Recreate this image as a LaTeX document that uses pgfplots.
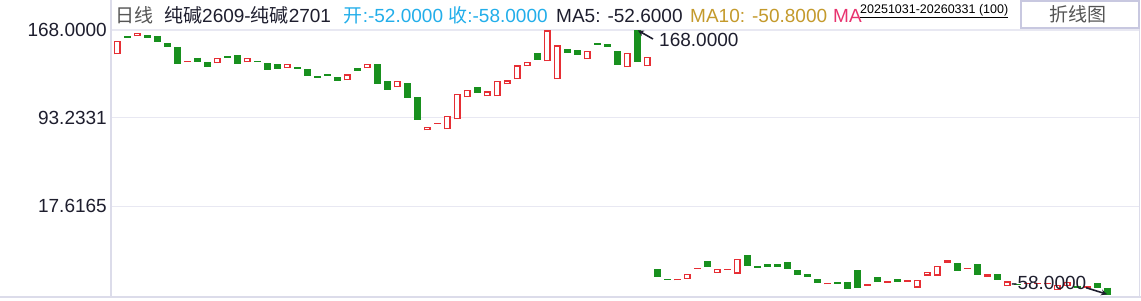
\documentclass[border=0pt]{standalone}
\usepackage{pgfplots}
\usepackage{pgfplotstable}
\pgfplotsset{compat=1.18}
\usetikzlibrary{arrows.meta}
\usepackage{fontspec}
\setmainfont{Liberation Sans}
\newfontfamily\cjk{Noto Sans CJK SC}
\definecolor{upred}{HTML}{E62E34}
\definecolor{dngreen}{HTML}{18901E}
\definecolor{gridc}{HTML}{E8E8F2}
\definecolor{framec}{HTML}{DCDCEA}
\definecolor{labc}{HTML}{1E1E2E}
\definecolor{hblue}{HTML}{22AEEA}
\definecolor{hgold}{HTML}{C49A2C}
\definecolor{hpink}{HTML}{E8336F}
\definecolor{hgray}{HTML}{555555}
\definecolor{btnc}{HTML}{C8C8E0}

\pgfplotstableread{
i o c
0 147.2 158.6
2 162.6 165.2
7 140.9 141.8
10 139.5 144.1
13 140.4 144.1
17 135.3 138.7
23 125.0 130.1
25 135.3 138.7
28 119.0 124.2
31 82.3 84.9
32 87.9 88.8
33 83.1 94.5
34 91.7 113.1
35 110.5 116.5
37 111.3 115.6
38 111.3 124.2
39 121.6 125.0
40 125.9 137.8
41 137.0 140.4
43 141.3 167.6
44 125.9 154.9
47 142.9 149.8
51 136.1 148.1
53 137.0 144.7
56 -45.7 -44.8
57 -44.5 -40.5
58 -36.0 -35.1
60 -39.4 -36.3
61 -36.9 -36.0
62 -39.9 -27.7
71 -49.1 -48.2
75 -50.5 -49.1
77 -47.6 -45.9
79 -46.8 -45.1
80 -51.9 -45.1
81 -41.6 -38.2
82 -41.6 -33.7
83 -30.5 -28.6
85 -36.0 -35.1
87 -42.5 -40.5
89 -50.6 -46.6
91 -49.0 -48.3
92 -49.0 -48.3
93 -49.2 -48.4
94 -54.0 -49.7
95 -50.3 -47.4
97 -52.0 -50.8
}\uptab

\pgfplotstableread{
i o c
1 162.9 161.4
3 163.7 161.4
4 162.9 158.0
5 156.9 153.7
6 153.5 139.2
8 144.3 140.9
9 140.7 136.6
11 145.8 144.3
12 146.6 139.2
14 141.8 140.9
15 139.8 134.1
16 138.9 134.9
18 136.4 134.9
19 134.7 128.9
20 128.7 127.2
21 130.4 128.9
22 127.8 124.7
24 135.5 133.2
26 138.9 122.1
27 124.4 117.0
29 122.5 110.2
30 110.7 91.3
36 119.3 114.4
42 148.4 142.6
45 151.8 148.6
46 150.9 146.9
48 156.9 155.4
49 156.0 153.7
50 150.1 138.4
52 168.0 140.9
54 -36.3 -42.8
55 -44.8 -45.7
59 -29.4 -34.3
63 -24.3 -33.4
64 -33.4 -35.1
65 -32.0 -34.3
66 -32.0 -34.3
67 -30.3 -36.0
68 -37.1 -41.1
69 -40.5 -42.8
70 -44.8 -48.0
72 -47.4 -48.8
73 -47.4 -53.1
74 -37.1 -52.2
76 -43.1 -47.1
78 -44.8 -46.8
84 -31.1 -37.4
86 -32.0 -41.1
88 -40.5 -45.4
90 -48.6 -49.2
96 -50.3 -52.0
98 -48.0 -52.5
99 -52.0 -58.0
}\dntab

\begin{document}
\begin{tikzpicture}[x=1bp,y=1bp]
\path[use as bounding box] (0,0) rectangle (1141,300);
\fill[white] (0,0) rectangle (1141,300);
\begin{axis}[
  at={(112bp,4bp)}, anchor=south west,
  scale only axis, width=1027bp, height=296bp,
  xmin=-0.5, xmax=102.2,
  ymin=-59.1, ymax=193.6,
  axis line style={draw=none},
  xtick=\empty,
  ytick={17.6165,93.2331,168},
  yticklabels={17.6165,93.2331,168.0000},
  major tick length=0pt,
  ymajorgrids,
  grid style={draw=gridc, line width=1.2bp},
  yticklabel style={font=\fontsize{19bp}{22bp}\selectfont, text=labc, anchor=east, inner sep=0pt, xshift=-5bp},
  clip=false,
]
\addplot[dngreen, line width=7bp, quiver={u=0, v=\thisrow{c}-\thisrow{o}}] table[x=i, y=o] {\dntab};
\addplot[upred, line width=7bp, quiver={u=0, v=\thisrow{c}-\thisrow{o}}] table[x=i, y=o] {\uptab};
\addplot[white, line width=4.6bp, quiver={u=0, v={max(\thisrow{c}-\thisrow{o}-2.0,0)}}] table[x=i, y expr=\thisrow{o}+1.0] {\uptab};
\draw[labc, line width=1.6bp, -{Stealth[length=6bp,width=6bp]}] (axis cs:53.6,160.3) -- (axis cs:52.1,167.6);
\node[anchor=west, inner sep=0pt, text=labc, font=\fontsize{19bp}{22bp}\selectfont] at (axis cs:54.2,159.5) {168.0000};
\draw[labc, line width=1.6bp, -{Stealth[length=6bp,width=6bp]}] (axis cs:96.9,-52.0) -- (axis cs:99.0,-57.6);
\node[anchor=west, inner sep=0pt, text=labc, font=\fontsize{19bp}{22bp}\selectfont] at (axis cs:89.4,-47.6) {-58.0000};
\end{axis}
% frame
\draw[framec, line width=1.5bp] (110.8,4) -- (110.8,300);
\draw[framec, line width=1.5bp] (1139.3,4) -- (1139.3,300);
\draw[framec, line width=2bp] (0,3.3) -- (1141,3.3);
% header
\begin{scope}[every node/.style={inner sep=0pt, anchor=base west, font=\fontsize{19bp}{22bp}\selectfont}]
\node[text=hgray] at (115,277.5) {\cjk 日线};
\node[text=labc] at (164,277.5) {{\cjk 纯碱}2609-{\cjk 纯碱}2701};
\node[text=hblue] at (343.6,277.5) {{\cjk 开}:-52.0000 {\cjk 收}:-58.0000};
\node[text=labc] at (556,277.5) {MA5: -52.6000};
\node[text=hgold] at (690,277.5) {MA10: -50.8000};
\node[text=hpink] at (833,277.5) {MA};
\end{scope}
\node[inner sep=0pt, anchor=base west, text=black, font=\fontsize{12.5bp}{14bp}\selectfont] at (860,286.5) {\underline{20251031-20260331 (100)}};
\draw[btnc, line width=2bp, fill=white] (1020.5,272.3) rectangle (1138.5,298.5);
\node[inner sep=0pt, text=hgray, font=\fontsize{19bp}{22bp}\selectfont\cjk] at (1078,285.5) {折线图};
\end{tikzpicture}
\end{document}
